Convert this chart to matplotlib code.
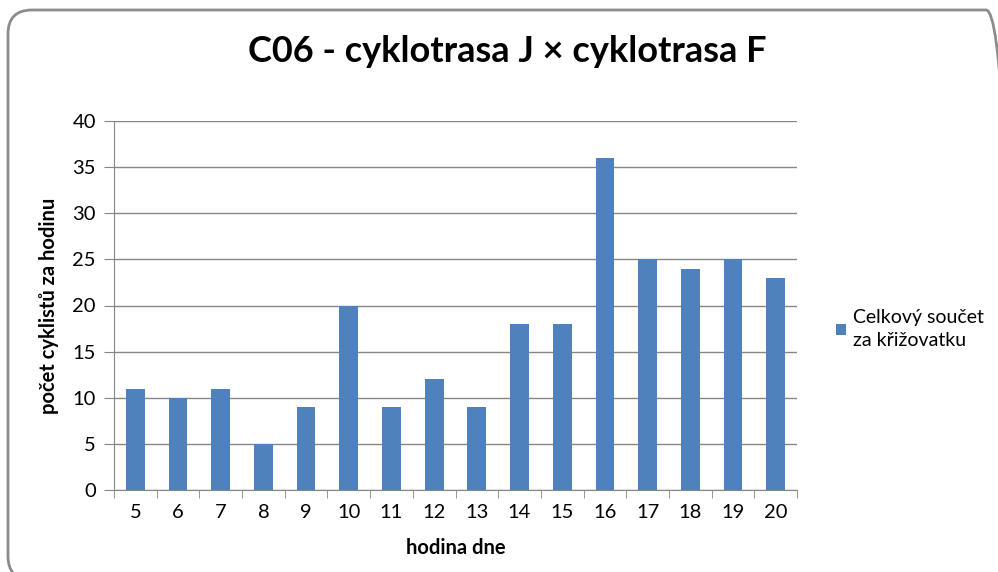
import matplotlib.pyplot as plt
from matplotlib.patches import FancyBboxPatch
from matplotlib.transforms import IdentityTransform

hours = [5, 6, 7, 8, 9, 10, 11, 12, 13, 14, 15, 16, 17, 18, 19, 20]
counts = [11, 10, 11, 5, 9, 20, 9, 12, 9, 18, 18, 36, 25, 24, 25, 23]

plt.rcParams['font.family'] = ['Lato', 'DejaVu Sans']

fig = plt.figure(figsize=(9.98, 5.72), dpi=100)
H = 572

# rounded chart frame, in pixels; right and bottom edges sit off the image
# (transparent fill instead of fill=False so Agg doesn't clip the outline to the canvas)
frame = FancyBboxPatch((8, H - 580), 1010 - 8, 580 - 10,
                       boxstyle="round,pad=0,rounding_size=24",
                       transform=IdentityTransform(), clip_on=False,
                       facecolor=(1, 1, 1, 0), edgecolor='#8c8c8c', linewidth=2)
fig.patches.append(frame)

ax = fig.add_axes([114/998, 1-490/572, (797-114)/998, (490-121)/572])

x = range(len(hours))
ax.bar(x, counts, width=0.44, color='#4f81bd', zorder=3, label='Celkový součet\nza křižovatku')

ax.set_xlim(-0.5, len(hours) - 0.5)
ax.set_ylim(0, 40)
ax.set_yticks(range(0, 41, 5))
ax.set_xticks(x)
ax.set_xticklabels(hours)
ax.set_xticks([i - 0.5 for i in range(len(hours) + 1)], minor=True)
ax.tick_params(axis='x', which='major', length=0, labelsize=14.5, pad=10)
ax.tick_params(axis='x', which='minor', length=6, color='#868686')
ax.tick_params(axis='y', length=7, color='#868686', labelsize=14.5, pad=6)
ax.grid(axis='y', color='#868686', linewidth=1, zorder=0)
for s in ['top', 'right']:
    ax.spines[s].set_visible(False)
for s in ['left', 'bottom']:
    ax.spines[s].set_color('#868686')

ax.set_xlabel('hodina dne', fontsize=14.5, fontweight='bold', labelpad=12)
ax.set_ylabel('počet cyklistů za hodinu', fontsize=14.5, fontweight='bold', labelpad=10)
fig.text(507/998, 1-52/572, 'C06 - cyklotrasa J × cyklotrasa F', fontsize=26,
         fontweight='bold', ha='center', va='center')

leg = fig.legend(loc='center left', bbox_to_anchor=(836/998, 1-329/572), frameon=False,
                 fontsize=14, handlelength=0.5, handleheight=0.5, handletextpad=0.35,
                 borderpad=0, borderaxespad=0)
for t in leg.get_texts():
    t.set_linespacing(1.45)

fig.savefig('out.png', dpi=100)
